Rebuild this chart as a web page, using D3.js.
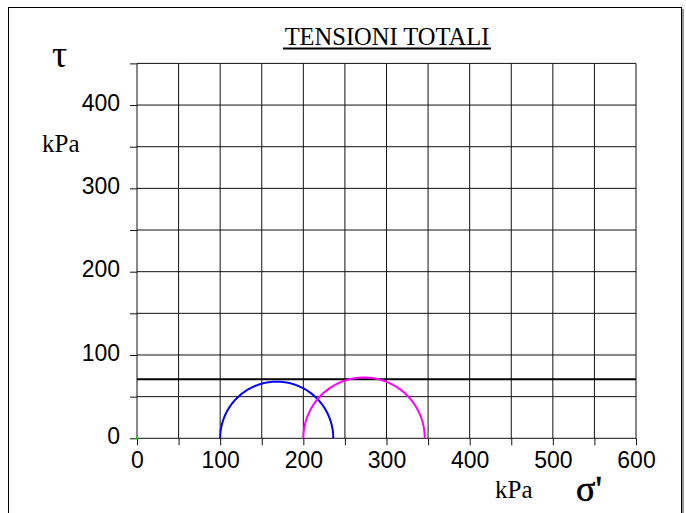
<!DOCTYPE html>
<html>
<head>
<meta charset="utf-8">
<script src="https://cdn.jsdelivr.net/npm/d3@7"></script>
<style>
  body { margin: 0; background: #fff; }
</style>
</head>
<body>
<div id="chart"></div>
<script>
// data
const xTicks = [0, 100, 200, 300, 400, 500, 600];
const yTicks = [0, 100, 200, 300, 400];
const gridStep = 50;
const envelopeTau = 71;
const circleCentres = [168, 273];
const circleRadii = [68, 73];
const circleColors = ["#0000ff", "#ff00ff"];

const W = 686, H = 513;

const svg = d3.select("#chart")
  .append("svg")
    .attr("width", W)
    .attr("height", H);

// frame with shadow
svg.append("rect")
    .attr("x", 10).attr("y", 9)
    .attr("width", 674).attr("height", 520)
    .attr("fill", "#999");
svg.append("rect")
    .attr("x", 8.5).attr("y", 7.5)
    .attr("width", 673).attr("height", 520)
    .attr("fill", "#fff")
    .attr("stroke", "#000")
    .attr("stroke-width", 1);

let x = d3.scaleLinear()
    .domain([0, 600])
    .range([137, 636]);

let y = d3.scaleLinear()
    .domain([0, 450])
    .range([438.3, 63.4]);

const sans = "'Liberation Sans', Arial, sans-serif";
const serif = "'Liberation Serif', 'Times New Roman', serif";

// grid
const g = svg.append("g");
g.selectAll("line.v")
  .data(d3.range(0, 601, gridStep))
  .join("line")
    .attr("x1", d => x(d)).attr("x2", d => x(d))
    .attr("y1", y(0)).attr("y2", y(450))
    .attr("stroke", "#111").attr("stroke-width", 1);

g.selectAll("line.h")
  .data(d3.range(0, 451, gridStep))
  .join("line")
    .attr("x1", x(0)).attr("x2", x(600))
    .attr("y1", d => y(d)).attr("y2", d => y(d))
    .attr("stroke", "#111").attr("stroke-width", 1);

// axes with outward ticks
let xAxis = g => g
    .attr("transform", `translate(0,${y(0)})`)
    .call(d3.axisBottom(x).tickValues(d3.range(0, 601, gridStep)).tickSize(7).tickSizeOuter(0)
      .tickFormat(d => xTicks.includes(d) ? d : ""))
    .call(g => g.select(".domain").remove())
    .call(g => g.selectAll("line").attr("stroke", "#111"))
    .call(g => g.selectAll("text")
        .attr("font-family", sans)
        .attr("font-size", 23).attr("fill", "#000")
        .attr("y", 30).attr("dy", 0));

let yAxis = g => g
    .attr("transform", `translate(${x(0)},0)`)
    .call(d3.axisLeft(y).tickValues(d3.range(0, 451, gridStep)).tickSize(7).tickSizeOuter(0)
      .tickFormat(d => yTicks.includes(d) ? d : ""))
    .call(g => g.select(".domain").remove())
    .call(g => g.selectAll("line").attr("stroke", "#111"))
    .call(g => g.selectAll("text")
        .attr("font-family", sans)
        .attr("font-size", 23).attr("fill", "#000")
        .attr("x", -17).attr("dy", "0.22em"));

svg.append("g").call(xAxis);
svg.append("g").call(yAxis);

// failure envelope
svg.append("line")
    .attr("x1", x(0)).attr("x2", x(600))
    .attr("y1", y(envelopeTau)).attr("y2", y(envelopeTau))
    .attr("stroke", "#000").attr("stroke-width", 2);

// Mohr circles (upper halves)
const arc = (c, r) => {
  const pts = d3.range(0, 181, 2).map(a => {
    const t = a * Math.PI / 180;
    return [x(c - r * Math.cos(t)), y(r * Math.sin(t))];
  });
  return d3.line()(pts);
};

svg.selectAll("path.mohr")
  .data(circleCentres)
  .join("path")
    .attr("d", (c, i) => arc(c, circleRadii[i]))
    .attr("fill", "none")
    .attr("stroke", (c, i) => circleColors[i])
    .attr("stroke-width", 2);

// small green mark at origin
svg.append("circle")
    .attr("cx", x(0)).attr("cy", y(0)).attr("r", 1.3)
    .attr("fill", "#00cc00");

// labels
svg.append("text")
    .attr("x", 387).attr("y", 45)
    .attr("text-anchor", "middle")
    .attr("font-family", serif).attr("font-size", 24.5)
    .text("TENSIONI TOTALI");
svg.append("line")
    .attr("x1", 283).attr("x2", 491)
    .attr("y1", 48.5).attr("y2", 48.5)
    .attr("stroke", "#000").attr("stroke-width", 2);

svg.append("text")
    .attr("x", 52).attr("y", 67)
    .attr("font-family", serif).attr("font-size", 38)
    .text("τ");

svg.append("text")
    .attr("x", 42).attr("y", 152)
    .attr("font-family", serif).attr("font-size", 25)
    .text("kPa");

svg.append("text")
    .attr("x", 495).attr("y", 498)
    .attr("font-family", serif).attr("font-size", 25)
    .text("kPa");

svg.append("text")
    .attr("x", 576).attr("y", 501)
    .attr("font-family", serif).attr("font-size", 36)
    .attr("stroke", "#000").attr("stroke-width", 0.6)
    .text("σ'");
</script>
</body>
</html>
